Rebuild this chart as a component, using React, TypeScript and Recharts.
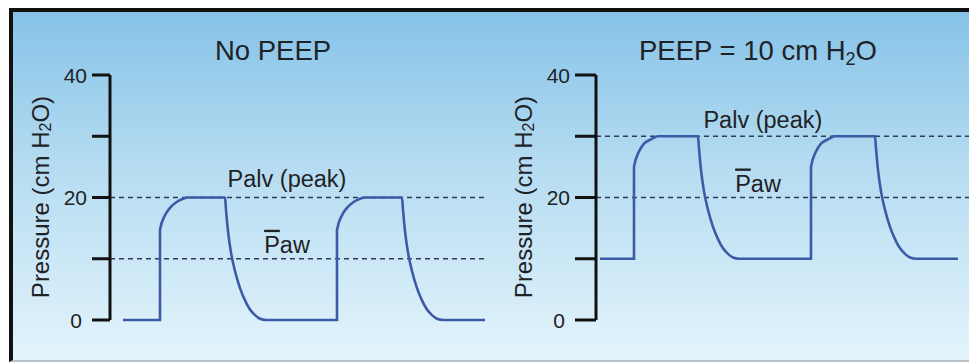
import { LineChart, Line, XAxis, YAxis, ReferenceLine } from 'recharts'

// time in seconds, pressure in cm H2O
const noPeepTime = [
  0.26, 1.0, 1.0, 1.1, 1.2, 1.34, 1.46, 1.56, 2.3, 2.32, 2.36, 2.42, 2.5, 2.6, 2.7, 2.8, 2.9, 3.0, 3.12,
  4.54, 4.54, 4.64, 4.74, 4.88, 5.0, 5.1, 5.84, 5.86, 5.9, 5.96, 6.04, 6.14, 6.24, 6.34, 6.44, 6.54, 6.66, 7.5,
]
const noPeepPressure = [
  0, 0, 14.7, 17.1, 18.3, 19.3, 19.8, 20, 20, 18, 14.5, 11, 8, 5.2, 3.2, 1.7, 0.8, 0.2, 0,
  0, 14.7, 17.1, 18.3, 19.3, 19.8, 20, 20, 18, 14.5, 11, 8, 5.2, 3.2, 1.7, 0.8, 0.2, 0, 0,
]

const peepTime = [
  0.08, 0.76, 0.76, 0.86, 0.96, 1.1, 1.24, 2.04, 2.06, 2.1, 2.16, 2.24, 2.34, 2.44, 2.54, 2.64, 2.74, 2.86,
  4.3, 4.3, 4.4, 4.5, 4.64, 4.78, 5.58, 5.6, 5.64, 5.7, 5.78, 5.88, 5.98, 6.08, 6.18, 6.28, 6.4, 7.24,
]
const peepPressure = [
  10, 10, 25, 27.5, 28.8, 29.5, 30, 30, 28, 24.5, 21, 18, 15.2, 13.2, 11.7, 10.8, 10.2, 10,
  10, 25, 27.5, 28.8, 29.5, 30, 30, 28, 24.5, 21, 18, 15.2, 13.2, 11.7, 10.8, 10.2, 10, 10,
]

const yTicks = [0, 10, 20, 30, 40]
const labelledTicks = [0, 20, 40]
const noPeepLevels = [20, 10] // Palv (peak), mean Paw
const peepLevels = [30, 20]

const FONT = '"Liberation Sans", Arial, Helvetica, sans-serif'
const TEXT = '#1f2226'
const TRACE = '#3b5ba6'
const DASH = '#2f3d5c'

const noPeepData = noPeepTime.map((t, i) => ({ t, p: noPeepPressure[i] }))
const peepData = peepTime.map((t, i) => ({ t, p: peepPressure[i] }))

function PressureTick({ x, y, payload }: any) {
  if (!labelledTicks.includes(payload.value)) return null
  const shift = payload.value === 0 ? 5 : 0
  return (
    <text x={x - shift} y={y} dy="0.36em" textAnchor="end" fontSize={21} fontFamily={FONT} fill={TEXT}>
      {payload.value}
    </text>
  )
}

function PressureLabel({ cx, cy }: any) {
  return (
    <text
      x={cx}
      y={cy}
      transform={`rotate(-90 ${cx} ${cy})`}
      textAnchor="middle"
      dominantBaseline="central"
      fontSize={24}
      fontFamily={FONT}
      fill={TEXT}
    >
      Pressure (cm H
      <tspan fontSize={16} dy={5}>
        2
      </tspan>
      <tspan dy={-5}>O)</tspan>
    </text>
  )
}

function LevelLabel({ viewBox, text, at, dy, bar }: any) {
  if (!viewBox) return null
  const x = viewBox.x + viewBox.width * at
  const y = viewBox.y + dy
  return (
    <text x={x} y={y} textAnchor="middle" fontSize={23.5} fontFamily={FONT} fill={TEXT}>
      {bar ? (
        <>
          <tspan style={{ textDecoration: 'overline' }}>P</tspan>aw
        </>
      ) : (
        text
      )}
    </text>
  )
}

interface PanelProps {
  data: { t: number; p: number }[]
  levels: number[]
  left: number
  width: number
  axisWidth: number
  tickSize: number
  labelX: number
  peakAt: number
  peakDy: number
  meanAt: number
}

function Panel({ data, levels, left, width, axisWidth, tickSize, labelX, peakAt, peakDy, meanAt }: PanelProps) {
  return (
    <div style={{ position: 'absolute', left, top: 0 }}>
      <LineChart width={width} height={362} data={data} margin={{ top: 75, right: 5, bottom: 42, left: 0 }}>
        <XAxis dataKey="t" type="number" domain={[0, 7.5]} hide allowDataOverflow />
        <YAxis
          domain={[0, 40]}
          ticks={yTicks}
          width={axisWidth}
          tickSize={tickSize}
          tickMargin={5}
          axisLine={{ stroke: '#111', strokeWidth: 3 }}
          tickLine={{ stroke: '#111', strokeWidth: 3 }}
          tick={<PressureTick />}
          label={<PressureLabel cx={labelX} cy={197} />}
          interval={0}
        />
        <ReferenceLine
          y={levels[0]}
          stroke={DASH}
          strokeDasharray="5 4"
          strokeWidth={1.3}
          label={<LevelLabel text="Palv (peak)" at={peakAt} dy={peakDy} />}
        />
        <ReferenceLine
          y={levels[1]}
          stroke={DASH}
          strokeDasharray="5 4"
          strokeWidth={1.3}
          label={<LevelLabel bar at={meanAt} dy={-6} />}
        />
        <Line
          type="monotone"
          dataKey="p"
          stroke={TRACE}
          strokeWidth={2.6}
          dot={false}
          isAnimationActive={false}
        />
      </LineChart>
    </div>
  )
}

const titleStyle = {
  position: 'absolute' as const,
  top: 37,
  width: 320,
  textAlign: 'center' as const,
  fontSize: 27.5,
  lineHeight: '27px',
  color: TEXT,
  whiteSpace: 'nowrap' as const,
}

export default function App() {
  return (
    <div
      style={{
        position: 'absolute',
        left: 0,
        top: 0,
        width: 969,
        height: 362,
        background: '#fff',
        overflow: 'hidden',
        fontFamily: FONT,
      }}
    >
      <div
        style={{
          position: 'absolute',
          left: 9,
          top: 8,
          width: 980,
          height: 348,
          borderTop: '4px solid #111',
          borderLeft: '4px solid #111',
          borderBottom: '2px solid #b9c2c8',
          background: 'linear-gradient(to bottom, #86c3e8 0%, #b6dcf1 45%, #e3f4fc 100%)',
        }}
      />
      <Panel
        data={noPeepData}
        levels={noPeepLevels}
        left={0}
        width={490}
        axisWidth={110}
        tickSize={18}
        labelX={40}
        peakAt={0.472}
        peakDy={-11}
        meanAt={0.472}
      />
      <Panel
        data={peepData}
        levels={peepLevels}
        left={490}
        width={486}
        axisWidth={106}
        tickSize={21}
        labelX={33}
        peakAt={0.445}
        peakDy={-8}
        meanAt={0.432}
      />
      <div style={{ ...titleStyle, left: 113 }}>No PEEP</div>
      <div style={{ ...titleStyle, left: 598 }}>
        PEEP = 10 cm H<span style={{ fontSize: 18, position: 'relative', top: 5 }}>2</span>O
      </div>
    </div>
  )
}
